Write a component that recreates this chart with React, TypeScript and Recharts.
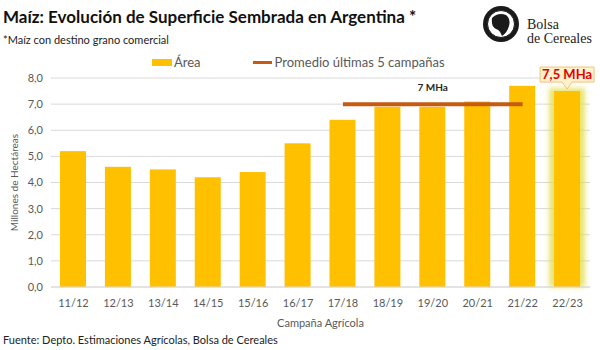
import {
  ComposedChart, Bar, Line, XAxis, YAxis, CartesianGrid, Legend, LabelList,
} from 'recharts'

const campaigns = ['11/12', '12/13', '13/14', '14/15', '15/16', '16/17', '17/18', '18/19', '19/20', '20/21', '21/22', '22/23']
const area = [5.2, 4.6, 4.5, 4.2, 4.4, 5.5, 6.4, 6.9, 6.9, 7.1, 7.7, 7.5]
const average = [null, null, null, null, null, null, 7.0, 7.0, 7.0, 7.0, 7.0, null]
const yTicks = [0, 1, 2, 3, 4, 5, 6, 7, 8]
const avgLabel = '7 MHa'
const lastLabel = '7,5 MHa'

const FONT = 'Lato, "Open Sans", sans-serif'
const YELLOW = '#FFC000'
const ORANGE = '#C55A11'
const LAST = campaigns.length - 1

const data = campaigns.map((c, i) => ({ name: c, area: area[i], avg: average[i] }))

// barra con brillo para la campaña en curso
const BarShape = (props: any) => {
  const { x, y, width, height, index } = props
  if (index !== LAST) return <rect x={x} y={y} width={width} height={height} fill={YELLOW} />
  return (
    <g>
      <defs>
        <filter id="glow" x="-50%" y="-20%" width="200%" height="140%">
          <feGaussianBlur stdDeviation="2.5" />
        </filter>
      </defs>
      <rect x={x - 5} y={y - 3} width={width + 10} height={height + 3} fill="#E2DC45" opacity={0.75} filter="url(#glow)" />
      <rect x={x} y={y} width={width} height={height} fill={YELLOW} />
    </g>
  )
}

const Callout = (props: any) => {
  const { x, y, width, index } = props
  if (index !== LAST) return null
  const cx = x + width / 2
  const top = y - 24
  const bot = y - 9
  const w = 54
  const d = `M${cx - w / 2},${top} H${cx + w / 2} V${bot} H${cx + 5} L${cx},${y - 2} L${cx - 5},${bot} H${cx - w / 2} Z`
  return (
    <g>
      <path d={d} fill="#FFF2CC" stroke="#F2C27A" strokeWidth={1} />
      <text x={cx} y={bot - 3} textAnchor="middle" fill="#E10000" fontSize={13} fontWeight={700} fontFamily={FONT}>
        {lastLabel}
      </text>
    </g>
  )
}

const AvgText = (props: any) => {
  const { x, y, index } = props
  if (index !== 8) return null
  return (
    <text x={x} y={y - 13} textAnchor="middle" fill="#262626" fontSize={10} fontWeight={700} fontFamily={FONT}>
      {avgLabel}
    </text>
  )
}

const LegendContent = () => (
  <div style={{ display: 'flex', justifyContent: 'flex-start', alignItems: 'center', height: 16, paddingLeft: 152, fontFamily: FONT, fontSize: 13, color: '#595959' }}>
    <span style={{ display: 'inline-block', width: 20, height: 7, background: YELLOW, marginRight: 2 }} />
    <span style={{ marginRight: 52 }}>Área</span>
    <span style={{ display: 'inline-block', width: 19, height: 3, background: ORANGE, marginRight: 3 }} />
    <span>Promedio últimas 5 campañas</span>
  </div>
)

function Logo() {
  return (
    <svg width={125} height={50} style={{ position: 'absolute', left: 478, top: 2 }}>
      <circle cx={23} cy={22} r={18} fill="#1a1a1a" />
      <circle cx={23} cy={22} r={13.5} fill="#fff" stroke="#1a1a1a" strokeWidth={1} />
      <path d="M14,16 Q20,10 28,13 Q33,17 31,24 Q29,31 24,34 Q22,28 18,27 Q13,25 14,16 Z" fill="#1a1a1a" />
      <text x={49} y={27} fontFamily='"Liberation Serif", serif' fontSize={14} fill="#222">Bolsa</text>
      <text x={49} y={41} fontFamily='"Liberation Serif", serif' fontSize={14} fill="#222">de Cereales</text>
    </svg>
  )
}

export default function App() {
  return (
    <div style={{ position: 'absolute', left: 0, top: 0, width: 600, height: 350, background: '#fff', fontFamily: FONT }}>
      <div style={{ position: 'absolute', left: 3, top: 6, fontSize: 17, fontWeight: 700, color: '#111' }}>
        Maíz: Evolución de Superficie Sembrada en Argentina *
      </div>
      <div style={{ position: 'absolute', left: 3, top: 33, fontSize: 11, color: '#222' }}>
        *Maíz con destino grano comercial
      </div>
      <Logo />
      <ComposedChart
        width={600}
        height={350}
        data={data}
        margin={{ top: 62, right: 10, bottom: 33, left: 8 }}
        barCategoryGap="40%"
      >
        <CartesianGrid vertical={false} stroke="#D9D9D9" />
        <XAxis
          dataKey="name"
          axisLine={{ stroke: '#D9D9D9' }}
          tickLine={false}
          tick={{ fontSize: 11, fill: '#595959', fontFamily: FONT }}
          tickMargin={6}
          label={{ value: 'Campaña Agrícola', position: 'insideBottom', offset: -10, fontSize: 11, fill: '#595959', fontFamily: FONT }}
        />
        <YAxis
          domain={[0, 8]}
          ticks={yTicks}
          width={43}
          axisLine={false}
          tickLine={false}
          tick={{ fontSize: 11, fill: '#595959', fontFamily: FONT }}
          tickFormatter={(v: number) => v.toFixed(1).replace('.', ',')}
          label={{ value: 'Millones de Hectáreas', angle: -90, position: 'insideLeft', offset: 6, fontSize: 10, fill: '#595959', fontFamily: FONT, style: { textAnchor: 'middle' } }}
        />
        <Legend verticalAlign="top" height={16} content={LegendContent} wrapperStyle={{ top: 54, left: 0, width: 600 }} />
        <Bar dataKey="area" name="Área" fill={YELLOW} barSize={26} shape={BarShape} isAnimationActive={false}>
          <LabelList dataKey="area" content={Callout} />
        </Bar>
        <Line dataKey="avg" name="Promedio últimas 5 campañas" stroke={ORANGE} strokeWidth={4} dot={false} activeDot={false} connectNulls={false} isAnimationActive={false}>
          <LabelList dataKey="avg" content={AvgText} />
        </Line>
      </ComposedChart>
      <div style={{ position: 'absolute', left: 3, top: 333, fontSize: 11, color: '#222' }}>
        Fuente: Depto.  Estimaciones Agrícolas, Bolsa de Cereales
      </div>
    </div>
  )
}
